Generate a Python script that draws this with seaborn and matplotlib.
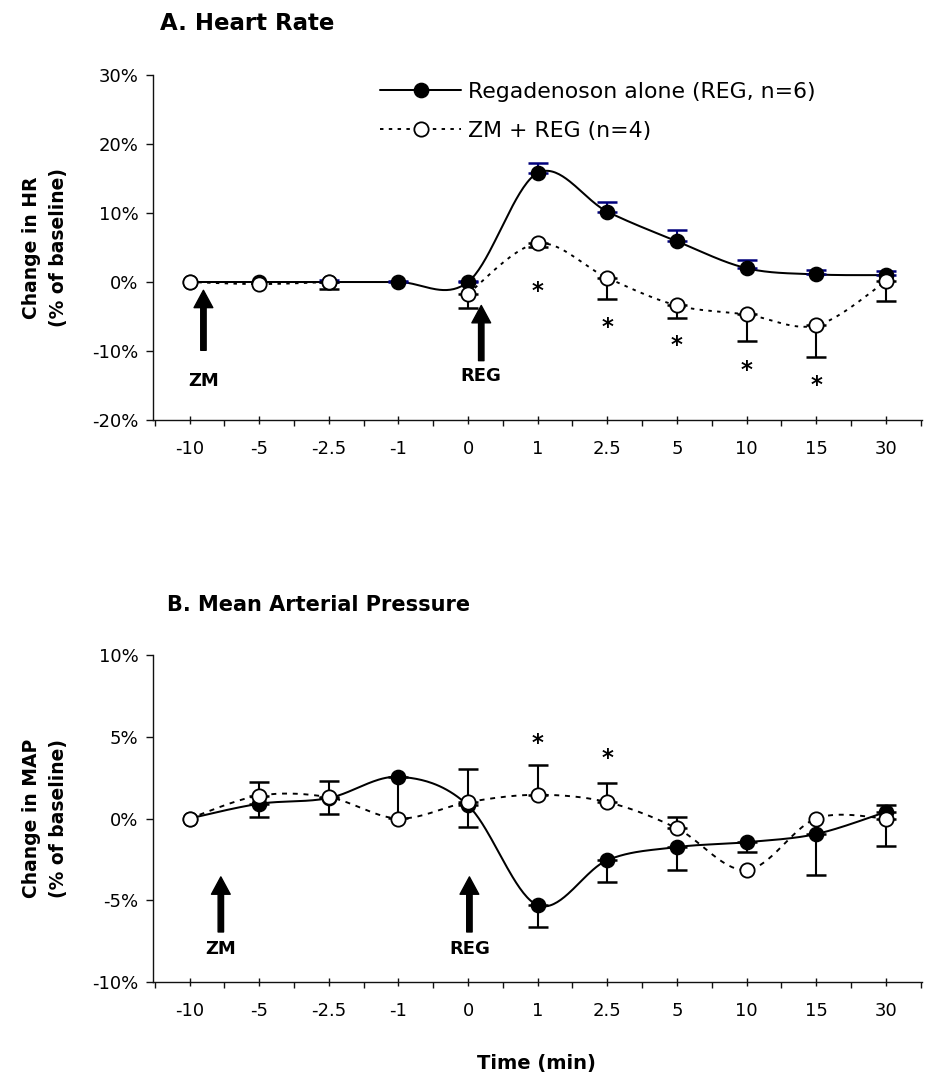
import numpy as np
import pandas as pd
import matplotlib
matplotlib.use("Agg")
import matplotlib.pyplot as plt
import seaborn as sns
from matplotlib.lines import Line2D
from matplotlib.ticker import FixedLocator, FuncFormatter

nan = np.nan

# ---------------- data ----------------
times = ["-10", "-5", "-2.5", "-1", "0", "1", "2.5", "5", "10", "15", "30"]

# Panel A: heart rate (% change from baseline)
hr_reg = [0.0, 0.0, 0.0, 0.0, 0.0, 15.8, 10.2, 5.9, 2.0, 1.1, 1.0]
hr_reg_err_hi = [0.0, 0.0, 0.3, 0.2, 0.2, 1.4, 1.4, 1.7, 1.2, 0.6, 0.6]
hr_zm = [0.0, -0.3, 0.0, nan, -1.7, 5.6, 0.6, -3.4, -4.7, -6.3, 0.1]
hr_zm_err_lo = [0.0, 0.0, 1.0, nan, 2.0, 0.5, 3.1, 1.8, 3.8, 4.5, 2.8]
hr_star_times = ["1", "2.5", "5", "10", "15"]
hr_star_y = [-1.0, -6.2, -8.8, -12.5, -14.7]

# Panel B: mean arterial pressure (% change from baseline)
map_reg = [0.0, 0.9, 1.25, 2.55, 0.8, -5.3, -2.55, -1.75, -1.45, -0.95, 0.4]
map_reg_err_lo = [0.0, 0.8, 1.0, 2.5, 1.3, 1.35, 1.35, 1.4, 0.6, 2.5, 0.0]
map_reg_err_hi = [0.0, 0.0, 0.0, 0.0, 0.0, 0.0, 0.0, 0.0, 0.0, 0.0, 0.45]
map_zm = [0.0, 1.4, 1.3, 0.0, 1.0, 1.45, 1.0, -0.6, -3.15, 0.0, 0.0]
map_zm_err_hi = [0.0, 0.85, 1.0, 0.0, 2.0, 1.8, 1.15, 0.7, 0.0, 0.0, 0.0]
map_zm_err_lo = [0.0, 0.0, 0.0, 0.0, 0.0, 0.0, 0.0, 0.0, 0.0, 0.0, 1.7]
map_star_times = ["1", "2.5"]
map_star_y = [4.75, 3.85]

# arrow annotations: (label, x offset in categories, tip y, tail y, label y)
hr_arrows = [("ZM", 0.2, -1.2, -9.9, -14.3), ("REG", 4.19, -3.4, -11.4, -13.6)]
map_arrows = [("ZM", 0.45, -3.57, -6.94, -7.96), ("REG", 4.02, -3.57, -6.94, -7.96)]

labels = ["Regadenoson alone (REG, n=6)", "ZM + REG (n=4)"]

# ---------------- style ----------------
sns.set_theme(style="white")
plt.rcParams["font.family"] = ["DejaVu Sans"]
plt.rcParams["axes.linewidth"] = 1.0
for k in ("text.color", "axes.labelcolor", "xtick.color", "ytick.color", "axes.edgecolor"):
    plt.rcParams[k] = "black"

pos = np.arange(len(times), dtype=float)


def excel_smooth(x, y, n=40):
    """Bezier smoothing like Excel's 'smoothed line' (Catmull-Rom), split at gaps."""
    x = np.asarray(x, float)
    y = np.asarray(y, float)
    runs, cur = [], []
    for i in range(len(y)):
        if np.isnan(y[i]):
            if cur:
                runs.append(cur)
            cur = []
        else:
            cur.append(i)
    if cur:
        runs.append(cur)
    out = []
    t = np.linspace(0, 1, n)
    for r in runs:
        if len(r) < 2:
            continue
        px, py = x[r], y[r]
        m = len(r)
        xs, ys = [], []
        for i in range(m - 1):
            i0 = i - 1 if i > 0 else i
            i3 = i + 2 if i + 2 < m else i + 1
            c1x = px[i] + (px[i + 1] - px[i0]) / 6
            c1y = py[i] + (py[i + 1] - py[i0]) / 6
            c2x = px[i + 1] - (px[i3] - px[i]) / 6
            c2y = py[i + 1] - (py[i3] - py[i]) / 6
            bx = ((1 - t) ** 3) * px[i] + 3 * ((1 - t) ** 2) * t * c1x + 3 * (1 - t) * t ** 2 * c2x + t ** 3 * px[i + 1]
            by = ((1 - t) ** 3) * py[i] + 3 * ((1 - t) ** 2) * t * c1y + 3 * (1 - t) * t ** 2 * c2y + t ** 3 * py[i + 1]
            xs.extend(bx)
            ys.extend(by)
        out.append((np.array(xs), np.array(ys)))
    return out


MS = 10.3      # marker diameter in points
LW = 1.45
ZM_DASH_A = (0, (1.8, 2.8))
ZM_DASH_B = (0, (2.6, 3.0))


def draw_errors(ax, vals, lo, hi, color):
    v = np.asarray(vals, float)
    lo = np.nan_to_num(np.asarray(lo, float))
    hi = np.nan_to_num(np.asarray(hi, float))
    for arr, which in ((lo, "lo"), (hi, "hi")):
        m = (arr > 0) & ~np.isnan(v)
        if not m.any():
            continue
        yerr = np.vstack([arr[m], np.zeros(m.sum())]) if which == "lo" else np.vstack([np.zeros(m.sum()), arr[m]])
        ax.errorbar(pos[m], v[m], yerr=yerr, fmt="none", ecolor=color,
                    elinewidth=1.5, capsize=7.5, capthick=1.8, zorder=3)


def draw_series(ax, reg, zm, dash):
    for xs, ys in excel_smooth(pos, zm):
        ax.plot(xs, ys, color="black", lw=LW * 0.95, linestyle=dash, zorder=2)
    for xs, ys in excel_smooth(pos, reg):
        ax.plot(xs, ys, color="black", lw=LW, zorder=2.1)
    df_reg = pd.DataFrame({"x": pos, "y": reg}).dropna()
    df_zm = pd.DataFrame({"x": pos, "y": zm}).dropna()
    sns.scatterplot(data=df_reg, x="x", y="y", ax=ax, color="black", edgecolor="black",
                    s=MS ** 2, linewidth=1.0, zorder=4, legend=False)
    sns.scatterplot(data=df_zm, x="x", y="y", ax=ax, color="white", edgecolor="black",
                    s=MS ** 2, linewidth=1.3, zorder=5, legend=False)


def style_axis(ax, ylim, yticks):
    ax.set_xlim(-0.52, len(times) - 1 + 0.52)
    ax.set_ylim(*ylim)
    ax.set_yticks(yticks)
    ax.yaxis.set_major_formatter(FuncFormatter(lambda v, p: f"{v:.0f}%"))
    ax.set_xticks(pos)
    ax.set_xticklabels(times)
    ax.xaxis.set_minor_locator(FixedLocator(np.arange(-0.5, len(times), 1.0)))
    for s in ("top", "right"):
        ax.spines[s].set_visible(False)
    for s in ("left", "bottom"):
        ax.spines[s].set_color("#111111")
        ax.spines[s].set_linewidth(1.0)
    ax.tick_params(axis="x", which="major", direction="inout", length=5.5, width=1.0,
                   labelsize=13, pad=12, color="#111111", labelcolor="black", bottom=True)
    ax.tick_params(axis="x", which="minor", direction="out", length=4.5, width=1.0,
                   color="#111111", bottom=True)
    ax.tick_params(axis="y", which="major", direction="out", length=4.8, width=1.0,
                   labelsize=13, pad=6, color="#111111", labelcolor="black", left=True)
    ax.set_xlabel("")
    ax.set_ylabel("")
    ax.grid(False)


def draw_stars(ax, tlist, ylist):
    for t, y in zip(tlist, ylist):
        ax.annotate("*", xy=(times.index(t), y), xytext=(0, -6.5), textcoords="offset points",
                    ha="center", va="baseline", fontsize=16.5, fontweight="bold", zorder=6,
                    color="black")


def draw_arrows(ax, arrows):
    for lab, xo, tip, tail, ly in arrows:
        ax.annotate("", xy=(xo, tip), xytext=(xo, tail),
                    arrowprops=dict(facecolor="black", edgecolor="black", width=3.9,
                                    headwidth=13.5, headlength=12.5, shrink=0.0), zorder=6)
        ax.text(xo, ly, lab, ha="center", va="center", fontsize=13, fontweight="bold",
                color="black")


fig = plt.figure(figsize=(9.3, 10.86), dpi=100)
W, H = 930.0, 1086.0
axA = fig.add_axes([153.3 / W, 1 - 420 / H, (922 - 153.3) / W, 345 / H])
axB = fig.add_axes([153.3 / W, 1 - 982 / H, (922 - 153.3) / W, 327 / H])

# Panel A
draw_series(axA, hr_reg, hr_zm, ZM_DASH_A)
draw_errors(axA, hr_reg, [0] * len(times), hr_reg_err_hi, "#00007a")
draw_errors(axA, hr_zm, hr_zm_err_lo, [0] * len(times), "black")
style_axis(axA, (-20, 30), [-20, -10, 0, 10, 20, 30])
draw_stars(axA, hr_star_times, hr_star_y)
draw_arrows(axA, hr_arrows)

# Panel B
draw_series(axB, map_reg, map_zm, ZM_DASH_B)
draw_errors(axB, map_reg, map_reg_err_lo, map_reg_err_hi, "black")
draw_errors(axB, map_zm, map_zm_err_lo, map_zm_err_hi, "black")
style_axis(axB, (-10, 10), [-10, -5, 0, 5, 10])
draw_stars(axB, map_star_times, map_star_y)
draw_arrows(axB, map_arrows)

# legend (panel A)
handles = [
    Line2D([0], [0], color="black", lw=LW, marker="o", ms=MS, mfc="black", mec="black"),
    Line2D([0], [0], color="black", lw=LW * 0.95, linestyle=ZM_DASH_A, marker="o", ms=MS,
           mfc="white", mec="black", mew=1.3),
]
leg = fig.legend(handles, labels, loc="upper left", bbox_to_anchor=(380 / W, 1 - 82 / H),
                 frameon=False, fontsize=15.8, handlelength=3.7, handletextpad=0.3,
                 labelspacing=0.85, borderpad=0, borderaxespad=0)
for txt in leg.get_texts():
    txt.set_color("black")

# titles
fig.text(160 / W, 1 - 23 / H, "A. Heart Rate", fontsize=16.5, fontweight="bold",
         ha="left", va="center", color="black")
fig.text(167 / W, 1 - 605 / H, "B. Mean Arterial Pressure", fontsize=15, fontweight="bold",
         ha="left", va="center", color="black")

# y labels
fig.text(45 / W, 1 - 247.5 / H, "Change in HR\n(% of baseline)", rotation=90, ha="center",
         va="center", fontsize=13.5, fontweight="bold", linespacing=1.5, color="black")
fig.text(45 / W, 1 - 818.5 / H, "Change in MAP\n(% of baseline)", rotation=90, ha="center",
         va="center", fontsize=13.5, fontweight="bold", linespacing=1.5, color="black")

# x label
fig.text(536 / W, 1 - 1063 / H, "Time (min)", ha="center", va="center", fontsize=14,
         fontweight="bold", color="black")

fig.savefig("out.png", dpi=100)
